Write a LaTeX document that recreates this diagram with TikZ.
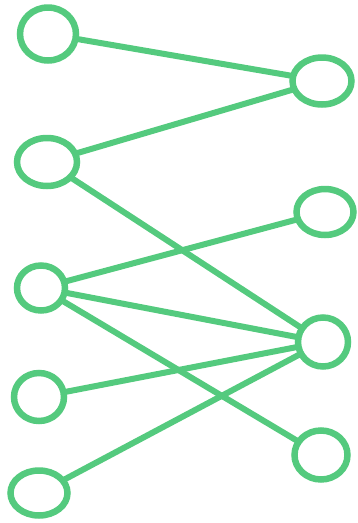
\documentclass[tikz,border=0pt]{standalone}
\usetikzlibrary{shapes.geometric}
\definecolor{mk}{RGB}{84,202,126}
\tikzset{
  vert/.style={draw=mk, line width=6.5pt, ellipse, inner sep=0pt},
  edge/.style={draw=mk, line width=6pt, line cap=round, shorten <=-1pt, shorten >=-1pt}
}
\begin{document}
\begin{tikzpicture}[x=1pt,y=-1pt]
\useasboundingbox (0,0) rectangle (358,523);
\node[vert, minimum width=56pt, minimum height=53pt] (l1) at (48,34) {};
\node[vert, minimum width=60pt, minimum height=48pt] (l2) at (47,162) {};
\node[vert, minimum width=48pt, minimum height=45pt] (l3) at (41,288) {};
\node[vert, minimum width=50pt, minimum height=48pt] (l4) at (39,397) {};
\node[vert, minimum width=57pt, minimum height=45pt] (l5) at (39,493) {};
\node[vert, minimum width=59pt, minimum height=47pt] (r1) at (322,81) {};
\node[vert, minimum width=57pt, minimum height=46pt] (r2) at (325,212) {};
\node[vert, minimum width=50pt, minimum height=49pt] (r3) at (323,342) {};
\node[vert, minimum width=53pt, minimum height=49pt] (r4) at (321,455) {};
\draw[edge] (l1) -- (r1);
\draw[edge] (l2) -- (r1);
\draw[edge] (l2) -- (r3);
\draw[edge] (l3) -- (r2);
\draw[edge] (l3) -- (r3);
\draw[edge] (l3) -- (r4);
\draw[edge] (l4) -- (r3);
\draw[edge] (l5) -- (r3);
\end{tikzpicture}
\end{document}
